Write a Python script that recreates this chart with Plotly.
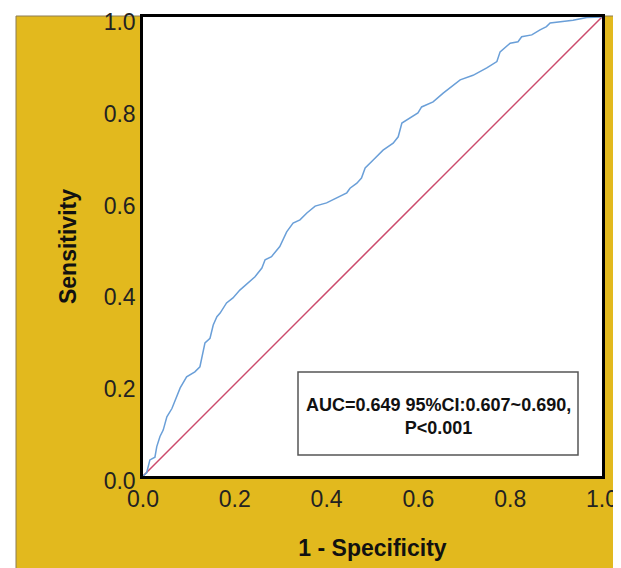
import plotly.graph_objects as go

# ROC curve points (1 - specificity, sensitivity)
fpr = [0.0, 0.008, 0.015, 0.026, 0.030, 0.037, 0.044, 0.052, 0.063, 0.073, 0.081,
       0.095, 0.113, 0.124, 0.128, 0.135, 0.146, 0.153, 0.161, 0.168, 0.182, 0.196,
       0.211, 0.229, 0.244, 0.259, 0.266, 0.280, 0.298, 0.313, 0.327, 0.342, 0.357,
       0.375, 0.400, 0.422, 0.444, 0.451, 0.466, 0.476, 0.484, 0.501, 0.523, 0.545,
       0.556, 0.564, 0.582, 0.599, 0.607, 0.632, 0.654, 0.683, 0.691, 0.719, 0.749,
       0.771, 0.778, 0.800, 0.817, 0.825, 0.847, 0.865, 0.879, 0.887, 0.908, 0.937,
       0.967, 1.0]
tpr = [0.0, 0.007, 0.035, 0.041, 0.064, 0.086, 0.100, 0.129, 0.147, 0.173, 0.192,
       0.216, 0.227, 0.238, 0.260, 0.290, 0.300, 0.329, 0.347, 0.355, 0.377, 0.388,
       0.405, 0.420, 0.434, 0.453, 0.471, 0.478, 0.500, 0.532, 0.551, 0.558, 0.573,
       0.588, 0.595, 0.606, 0.617, 0.627, 0.638, 0.649, 0.671, 0.688, 0.710, 0.725,
       0.739, 0.769, 0.780, 0.791, 0.804, 0.815, 0.834, 0.856, 0.863, 0.873, 0.889,
       0.903, 0.924, 0.943, 0.946, 0.957, 0.961, 0.972, 0.979, 0.987, 0.990, 0.993,
       0.999, 1.0]
ref_x = [0.0, 1.0]
ref_y = [0.0, 1.0]
tick_vals = [0.0, 0.2, 0.4, 0.6, 0.8, 1.0]
tick_text = ["0.0", "0.2", "0.4", "0.6", "0.8", "1.0"]
label_text = "<b>AUC=0.649 95%CI:0.607~0.690,<br>P<0.001</b>"

GOLD = "#E2B91E"
FONT = "Liberation Sans, Arial, sans-serif"

fig = go.Figure()
fig.add_trace(go.Scatter(x=ref_x, y=ref_y, mode="lines",
                         line=dict(color="#CC4A6C", width=1.5), showlegend=False))
fig.add_trace(go.Scatter(x=fpr, y=tpr, mode="lines",
                         line=dict(color="#6A9FD8", width=1.5), showlegend=False))

# page pixel -> paper helpers (plot area 143..602 x 17..476 on the page)
def px(p):
    return (p - 143) / 459.0

def py(p):
    return (476 - p) / 459.0

shapes = [
    dict(type="rect", xref="paper", yref="paper", x0=-0.5, x1=1.2, y0=py(16), y1=1.2,
         fillcolor="white", line=dict(width=0), layer="below"),
    dict(type="rect", xref="paper", yref="paper", x0=-0.5, x1=px(16), y0=-0.5, y1=1.2,
         fillcolor="white", line=dict(width=0), layer="below"),
    dict(type="path", xref="paper", yref="paper",
         path=f"M {px(16)},{py(569)} L {px(16)},{py(16)} L {px(622)},{py(16)}",
         line=dict(color="#8C7D55", width=1), layer="below"),
    dict(type="rect", xref="x", yref="y", x0=px(298), x1=px(578), y0=py(455), y1=py(372),
         fillcolor="white", line=dict(color="#555555", width=1.5), layer="above"),
]

annotations = [
    dict(x=px(438), y=py(416), xref="x", yref="y", text=label_text,
         showarrow=False, font=dict(family=FONT, size=18, color="#111111")),
]

# page has an 8px body margin: figure is placed at (8, 8)
fig.update_layout(
    width=613, height=560,
    margin=dict(l=135, r=19, t=9, b=92, autoexpand=False),
    paper_bgcolor=GOLD, plot_bgcolor="white",
    font=dict(family=FONT, color="#222222"),
    shapes=shapes, annotations=annotations,
    xaxis=dict(range=[0, 1], tickvals=tick_vals, ticktext=tick_text, showgrid=False,
               zeroline=False, showline=True, mirror=True, linecolor="black", linewidth=2.5,
               ticks="", tickfont=dict(size=23, color="#222222"), ticklabelstandoff=1,
               automargin=False, ticklabeloverflow="allow",
               title=dict(text="<b>1 - Specificity</b>", font=dict(size=23, color="#111111"),
                          standoff=29)),
    yaxis=dict(range=[0, 1], tickvals=tick_vals, ticktext=tick_text, showgrid=False,
               zeroline=False, showline=True, mirror=True, linecolor="black", linewidth=2.5,
               ticks="", tickfont=dict(size=23, color="#222222"), ticklabelshift=5,
               automargin=False, ticklabeloverflow="allow",
               title=dict(text="<b>Sensitivity</b>", font=dict(size=23, color="#111111"),
                          standoff=21)),
)

fig.write_html("out.html")
